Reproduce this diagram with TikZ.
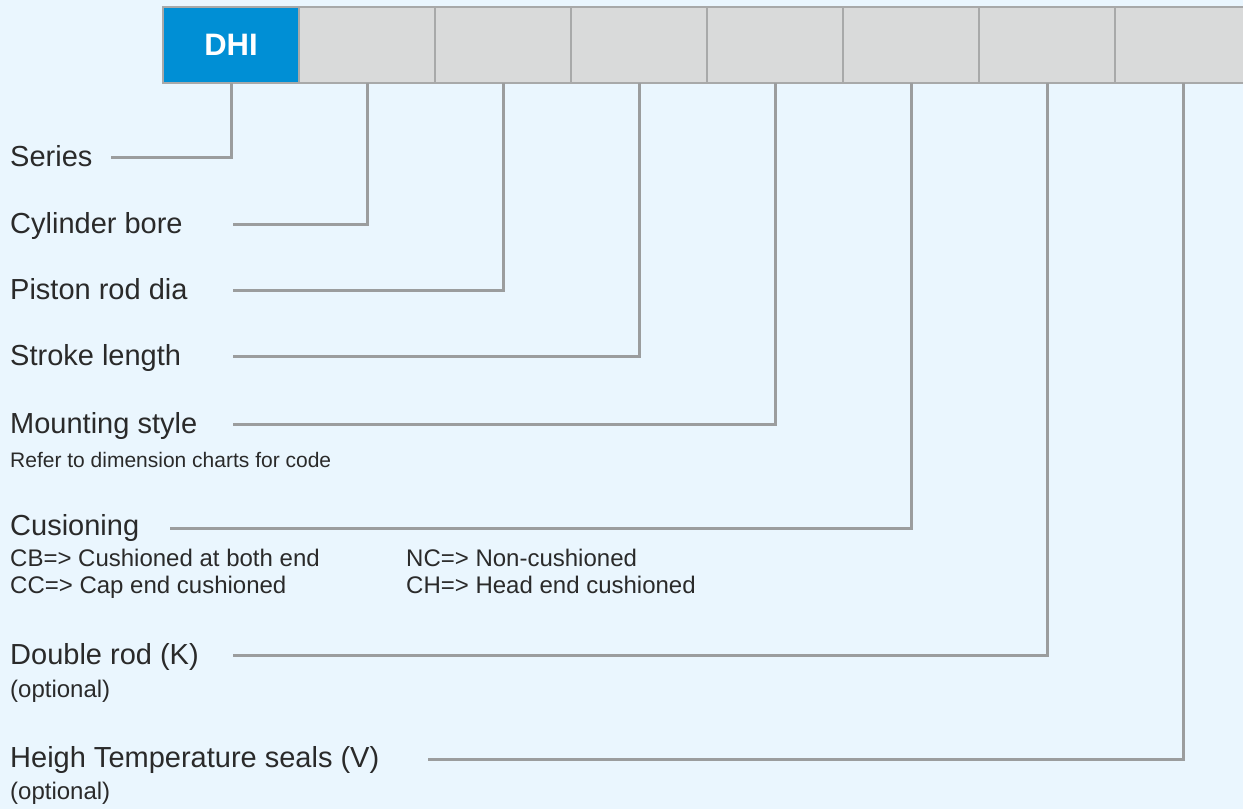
\documentclass[tikz,border=0pt]{standalone}
\usepackage{fontspec}
\setmainfont{Liberation Sans}
\definecolor{bg}{HTML}{EAF6FE}
\definecolor{boxgray}{HTML}{D9DADA}
\definecolor{boxline}{HTML}{A8A9A9}
\definecolor{dhiblue}{HTML}{008FD5}
\definecolor{linegray}{HTML}{9B9D9E}
\definecolor{txt}{HTML}{2A2A2A}
\begin{document}
\begin{tikzpicture}[x=1pt,y=-1pt,
  box/.style={draw=boxline, line width=1.5pt, fill=boxgray, minimum width=136pt, minimum height=76pt, inner sep=0pt, outer sep=0pt},
  lab/.style={anchor=base west, inner sep=0pt, font=\fontsize{29}{34}\selectfont, text=txt},
  sublab/.style={anchor=base west, inner sep=0pt, font=\fontsize{24}{28}\selectfont, text=txt},
  reflab/.style={anchor=base west, inner sep=0pt, font=\fontsize{21}{25}\selectfont, text=txt},
  conn/.style={draw=linegray, line width=3pt, line join=miter}]
\useasboundingbox (0,0) rectangle (1243,809);
\fill[bg] (0,0) rectangle (1243,809);
\clip (0,0) rectangle (1243,809);
% code boxes
\foreach \i in {2,...,8}{
  \node[box] (b\i) at ({163+136*(\i-1)+68},45) {};
}
\node[box, fill=dhiblue, text=white, font=\bfseries\fontsize{31}{36}\selectfont] (b1) at (231,45) {DHI};
% labels
\node[lab] (l1) at (10,166) {Series};
\node[lab] (l2) at (10,233) {Cylinder bore};
\node[lab] (l3) at (10,299) {Piston rod dia};
\node[lab] (l4) at (10,365) {Stroke length};
\node[lab] (l5) at (10,433) {Mounting style};
\node[reflab] (r5) at (10,467) {Refer to dimension charts for code};
\node[lab] (l6) at (10,535) {Cusioning};
\node[sublab] (c6a) at (10,566) {CB=> Cushioned at both end};
\node[sublab] (c6b) at (10,593) {CC=> Cap end cushioned};
\node[sublab] (c6c) at (406,566) {NC=> Non-cushioned};
\node[sublab] (c6d) at (406,593) {CH=> Head end cushioned};
\node[lab] (l7) at (10,664) {Double rod (K)};
\node[sublab] (o7) at (10,697) {(optional)};
\node[lab] (l8) at (10,767) {Heigh Temperature seals (V)};
\node[sublab] (o8) at (10,799) {(optional)};
% connector ends
\coordinate (e1) at (111,157);
\coordinate (e2) at (233,224);
\coordinate (e3) at (233,290);
\coordinate (e4) at (233,356);
\coordinate (e5) at (233,424);
\coordinate (e6) at (170,528);
\coordinate (e7) at (233,655);
\coordinate (e8) at (428,759);
\foreach \i in {1,...,8}{
  \draw[conn] (b\i.south) |- (e\i);
}
\end{tikzpicture}
\end{document}
